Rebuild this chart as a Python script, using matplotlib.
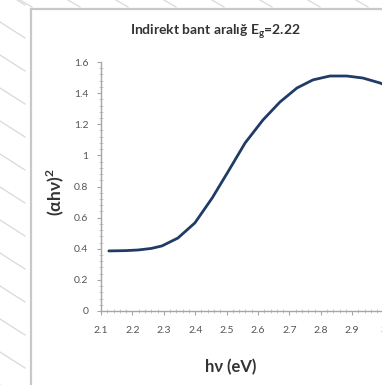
import matplotlib.pyplot as plt
from matplotlib.lines import Line2D
from matplotlib.ticker import MultipleLocator

# photon energy (eV) and (alpha h nu)^2
hv = [2.125, 2.18, 2.218, 2.26, 2.294, 2.345, 2.399, 2.454, 2.504, 2.559,
      2.616, 2.670, 2.724, 2.775, 2.829, 2.883, 2.934, 2.989, 3.04]
ahv2 = [0.386, 0.388, 0.392, 0.402, 0.418, 0.469, 0.566, 0.726, 0.893, 1.080,
        1.228, 1.343, 1.433, 1.485, 1.510, 1.510, 1.497, 1.465, 1.42]

x_ticks = [2.1, 2.2, 2.3, 2.4, 2.5, 2.6, 2.7, 2.8, 2.9, 3.0]
x_labels = ['2.1', '2.2', '2.3', '2.4', '2.5', '2.6', '2.7', '2.8', '2.9', '3']
y_ticks = [0, 0.2, 0.4, 0.6, 0.8, 1.0, 1.2, 1.4, 1.6]
y_labels = ['0', '0.2', '0.4', '0.6', '0.8', '1', '1.2', '1.4', '1.6']

W, H = 382, 385
fig = plt.figure(figsize=(W / 100, H / 100), dpi=100)
fig.patch.set_facecolor('white')

# hatched page background on the left and top strips
for k in range(-20, 30):
    y0 = k * 33 + 22
    fig.add_artist(Line2D([0, 25 / W], [1 - y0 / H, 1 - (y0 + 16) / H],
                          color='#d9d9d9', lw=0.9, transform=fig.transFigure))
for k in range(0, 10):
    x0 = 20 + k * 48
    fig.add_artist(Line2D([x0 / W, (x0 + 12) / W], [1, 1 - 7 / H],
                          color='#d9d9d9', lw=0.9, transform=fig.transFigure))
# chart panel
panel = plt.Rectangle((31 / W, 0), 1 - 31 / W, 1 - 9 / H, transform=fig.transFigure,
                      facecolor='white', edgecolor='none', zorder=1)
fig.add_artist(panel)
fig.add_artist(Line2D([31 / W, 31 / W], [0, 1 - 9 / H], color='#c8c8c8', lw=1.6,
                      transform=fig.transFigure, zorder=2))
fig.add_artist(Line2D([31 / W, 1], [1 - 9 / H, 1 - 9 / H], color='#c8c8c8', lw=1.6,
                      transform=fig.transFigure, zorder=2))

# axes: x=2.1 at px 101, 31.4 px per 0.1; y=0 at px 311, 1.6 at px 62
x_max = 3.2
ax = fig.add_axes([101 / W, (H - 311) / H, (x_max - 2.1) * 314 / W, (311 - 62) / H])
ax.set_zorder(3)
ax.patch.set_alpha(0)
ax.plot(hv, ahv2, color='#1f3b66', lw=2.0, solid_capstyle='round')
ax.set_xlim(2.1, x_max)
ax.set_ylim(0, 1.6)

ax.set_xticks(x_ticks)
ax.set_xticklabels(x_labels)
ax.set_yticks(y_ticks)
ax.set_yticklabels(y_labels)
ax.xaxis.set_minor_locator(MultipleLocator(0.02))
ax.yaxis.set_minor_locator(MultipleLocator(0.04))

for s in ['top', 'right']:
    ax.spines[s].set_visible(False)
for s in ['left', 'bottom']:
    ax.spines[s].set_color('#a6a6a6')
    ax.spines[s].set_linewidth(1.0)
ax.tick_params(which='major', direction='out', length=3, color='#a6a6a6',
               labelsize=7.5, labelcolor='#555555')
ax.tick_params(axis='x', which='major', pad=8)
ax.tick_params(axis='y', which='major', pad=6)
ax.tick_params(which='minor', direction='inout', length=2.5, color='#bfbfbf', width=0.6)
for lab in ax.get_xticklabels() + ax.get_yticklabels():
    lab.set_family('Lato')

fig.text(215 / W, 1 - 31 / H, 'Indirekt bant aralığ E$_{\\mathregular{g}}$=2.22',
         ha='center', va='center', fontsize=10, fontweight='bold',
         family='Lato', color='#333333', zorder=4)
fig.text(55 / W, 1 - 192 / H, '(αhν)$^{\\mathregular{2}}$', rotation=90,
         ha='center', va='center', fontsize=12.5, fontweight='bold',
         family='Lato', color='#333333', zorder=4)
fig.text(231 / W, 1 - 367 / H, 'hν (eV)', ha='center', va='center',
         fontsize=12, fontweight='bold', family='Lato', color='#333333', zorder=4)

fig.savefig('out.png', dpi=100)
